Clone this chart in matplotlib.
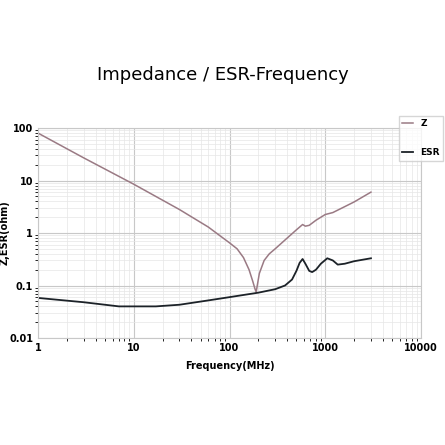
import numpy as np
import matplotlib.pyplot as plt

z_freq = [1, 3, 10, 30, 60, 100, 120, 140, 160, 175, 185, 190, 195, 205, 230, 260, 300, 400, 500, 580, 620, 680, 800, 1000, 1200, 1500, 2000, 3000]
z_vals = [80, 27, 8.5, 2.8, 1.3, 0.65, 0.5, 0.34, 0.2, 0.12, 0.085, 0.075, 0.1, 0.17, 0.3, 0.4, 0.5, 0.8, 1.15, 1.45, 1.35, 1.4, 1.75, 2.25, 2.45, 3.0, 3.9, 6.0]
esr_freq = [1, 3, 7, 17, 30, 60, 100, 200, 300, 380, 450, 500, 540, 580, 620, 680, 730, 800, 900, 1050, 1200, 1350, 1600, 2000, 3000]
esr_vals = [0.058, 0.048, 0.04, 0.04, 0.043, 0.052, 0.06, 0.073, 0.085, 0.1, 0.13, 0.19, 0.27, 0.32, 0.26, 0.19, 0.18, 0.2, 0.26, 0.33, 0.3, 0.25, 0.26, 0.29, 0.33]

fig = plt.figure(figsize=(4.45, 4.45), dpi=100)
ax = fig.add_axes([38/445, (445-338)/445, (421-38)/445, (338-128)/445])
ax.plot(z_freq, z_vals, color="#9a7a84", lw=1.1, label="Z")
ax.plot(esr_freq, esr_vals, color="#1c2228", lw=1.3, label="ESR")
ax.set_xscale("log")
ax.set_yscale("log")
ax.set_xlim(1, 10000)
ax.set_ylim(0.01, 100)
ax.set_xticks([1, 10, 100, 1000, 10000])
ax.set_xticklabels(["1", "10", "100", "1000", "10000"])
ax.set_yticks([0.01, 0.1, 1, 10, 100])
ax.set_yticklabels(["0.01", "0.1", "1", "10", "100"])
ax.tick_params(length=0, labelsize=7)
for t in ax.get_xticklabels() + ax.get_yticklabels():
    t.set_fontweight("bold")
ax.grid(which="major", color="#c8c8c8", lw=0.8)
ax.grid(which="minor", color="#e6e6e6", lw=0.5)
for s in ax.spines.values():
    s.set_color("#c8c8c8")
ax.set_xlabel("Frequency(MHz)", fontsize=7, fontweight="bold", labelpad=6)
ax.set_ylabel("Z,ESR(ohm)", fontsize=7, fontweight="bold")
ax.yaxis.set_label_coords(-0.075, 0.5)
fig.text(0.5, 0.82, "Impedance / ESR-Frequency", ha="center", fontsize=13)
ax.legend(loc="upper left", bbox_to_anchor=(0.93, 1.08), handlelength=1.2,
          labelspacing=2.2, fancybox=False, edgecolor="#cccccc", prop={"weight": "bold", "size": 6.5})
fig.savefig("out.png", dpi=100)
